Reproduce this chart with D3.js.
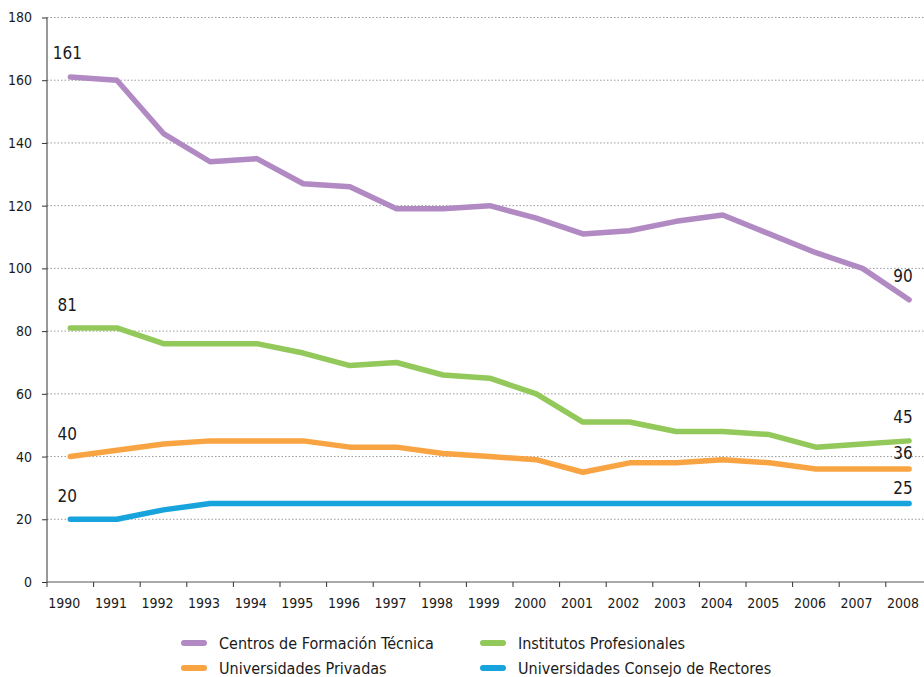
<!DOCTYPE html>
<html><head><meta charset="utf-8">
<script src="https://cdn.jsdelivr.net/npm/d3@7"></script>
<style>
html,body{margin:0;padding:0;background:#fff;}
svg text{font-family:"Liberation Sans Narrow","DejaVu Sans Condensed","Roboto Condensed",sans-serif;fill:#1a1a1a;}
</style></head>
<body><svg id="c" width="924" height="677"></svg>
<script>
const years = ["1990","1991","1992","1993","1994","1995","1996","1997","1998","1999","2000","2001","2002","2003","2004","2005","2006","2007","2008"];
const cft = [161,160,143,134,135,127,126,119,119,120,116,111,112,115,117,111,105,100,90];
const ip  = [81,81,76,76,76,73,69,70,66,65,60,51,51,48,48,47,43,44,45];
const up  = [40,42,44,45,45,45,43,43,41,40,39,35,38,38,39,38,36,36,36];
const ucr = [20,20,23,25,25,25,25,25,25,25,25,25,25,25,25,25,25,25,25];
const seriesNames = ["Centros de Formación Técnica","Institutos Profesionales","Universidades Privadas","Universidades Consejo de Rectores"];
const seriesColors = ["#b28ac3","#93c85a","#f9a442","#17a4dc"];
const yTicks = [0,20,40,60,80,100,120,140,160,180];

const series = [cft, ip, up, ucr];
const svg = d3.select("#c");
const x = d3.scaleBand().domain(years).range([47, 47 + 19*46.6]).padding(0);
const y = d3.scaleLinear().domain([0,180]).range([582, 17.5]);

// grid
svg.append("g").selectAll("line").data(yTicks.filter(d=>d>0)).join("line")
  .attr("x1",47).attr("x2",924).attr("y1",d=>y(d)).attr("y2",d=>y(d))
  .attr("stroke","#9a9a9a").attr("stroke-width",1).attr("stroke-dasharray","1.5,2");

// y axis
const ya = svg.append("g").attr("transform","translate(47,0)")
  .call(d3.axisLeft(y).tickValues(yTicks).tickSize(5).tickPadding(10));
ya.select(".domain").attr("stroke","#333").attr("d","M0,17.5V582");
ya.selectAll(".tick line").attr("stroke","#333");
ya.selectAll("text").attr("font-size",14).attr("fill","#1a1a1a");

// x axis
const xa = svg.append("g").attr("transform","translate(0,582)")
  .call(d3.axisBottom(x).tickSize(0).tickPadding(16));
xa.select(".domain").attr("stroke","#555").attr("d","M47,0H924");
xa.selectAll("text").attr("font-size",14).attr("fill","#1a1a1a").attr("dx",-6);
svg.append("g").selectAll("line").data(years).join("line")
  .attr("x1",d=>x(d)).attr("x2",d=>x(d)).attr("y1",582).attr("y2",587)
  .attr("stroke","#333");

// lines
const line = d3.line().x((d,i)=>x(years[i])+x.bandwidth()/2).y(d=>y(d));
series.forEach((s,k)=>{
  svg.append("path").datum(s).attr("d",line).attr("fill","none")
    .attr("stroke",seriesColors[k]).attr("stroke-width",5.5)
    .attr("stroke-linecap","round").attr("stroke-linejoin","round");
});

// value labels
const cx = i => x(years[i]) + x.bandwidth()/2;
const labels = [
  {s:0,i:0,dy:-18},{s:1,i:0,dy:-17},{s:2,i:0,dy:-17},{s:3,i:0,dy:-17},
  {s:0,i:18,dy:-18},{s:1,i:18,dy:-18},{s:2,i:18,dy:-10},{s:3,i:18,dy:-10}
];
svg.append("g").selectAll("text").data(labels).join("text")
  .attr("x",d=>cx(d.i) + (d.i===0 ? -3 : -6))
  .attr("y",d=>y(series[d.s][d.i]) + d.dy)
  .attr("text-anchor","middle").attr("font-size",17)
  .text(d=>series[d.s][d.i]);

// legend
const leg = svg.append("g");
const pos = [[181,643],[480,643],[181,668],[480,668]];
const order = [0,1,2,3];
order.forEach((k,j)=>{
  const [lx,ly] = pos[j];
  leg.append("line").attr("x1",lx+3).attr("x2",lx+23).attr("y1",ly).attr("y2",ly)
    .attr("stroke",seriesColors[k]).attr("stroke-width",6).attr("stroke-linecap","round");
  leg.append("text").attr("x",lx+38).attr("y",ly+5.5).attr("font-size",16).text(seriesNames[k]);
});
</script></body></html>
